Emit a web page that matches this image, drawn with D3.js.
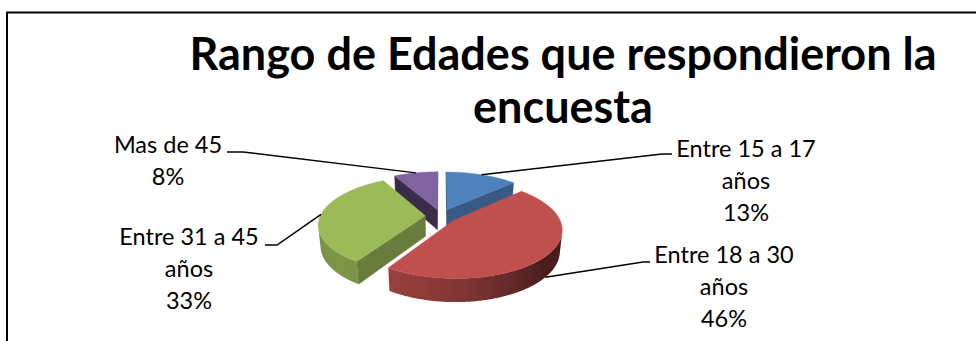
<!DOCTYPE html>
<html><head><meta charset="utf-8">
<script src="https://cdn.jsdelivr.net/npm/d3@7"></script>
<style>body{margin:0;background:#fff} svg{display:block}</style>
</head><body>
<svg id="c" width="976" height="341"></svg>
<script>
// ---- data ----
const titleLines = ["Rango de Edades que respondieron la", "encuesta"];
const categories = ["Entre 15 a 17 años", "Entre 18 a 30 años", "Entre 31 a 45 años", "Mas de 45"];
const values = [13, 46, 33, 8];
const colors = ["#4f81bd", "#c0504d", "#9bbb59", "#8064a2"];

// ---- layout / style ----
const W = 976, H = 341;
const cx = 441, cy = 216;           // screen position of pie centre
const D = 5.18, phi = 26.1 * Math.PI / 180, F = 105 * D; // camera
const depth = 0.22, explode = 0.15;  // pie thickness & explosion (unit radius)
const labelFont = "Lato, 'Open Sans', sans-serif";
const labelSize = 23.5, lineGap = 32;
const labelLayout = [
  {x: 746, y: 157, elbow: [662, 154], end: [672, 154]},
  {x: 724, y: 263, elbow: [643, 262], end: [650, 262]},
  {x: 189, y: 245, elbow: [277, 245], end: [265, 245]},
  {x: 168, y: 153, elbow: [243, 152], end: [227, 152]}
];

const svg = d3.select("#c");
const defs = svg.append("defs");
svg.append("rect").attr("x", 0).attr("y", 0).attr("width", W).attr("height", H).attr("fill", "#fff");
svg.append("rect").attr("x", 7).attr("y", 12.5).attr("width", W + 10).attr("height", H + 10)
  .attr("fill", "none").attr("stroke", "#000").attr("stroke-width", 2);

// title
const tg = svg.append("text").attr("text-anchor", "middle")
  .attr("font-family", labelFont).attr("font-weight", 700).attr("font-size", 45).attr("fill", "#000");
titleLines.forEach((t, i) => tg.append("tspan").attr("x", 563).attr("y", 70 + i * 53).text(t));

// ---- 3D pie ----
const sinP = Math.sin(phi), cosP = Math.cos(phi);
function proj(X, Y, Z) {
  const up = Y * cosP - Z * sinP, tw = Y * sinP + Z * cosP, s = F / (D - tw);
  return [cx + X * s, cy - up * s];
}
const cam = [0, D * sinP, D * cosP];
const color = d3.scaleOrdinal().domain(categories).range(colors);
const arcs = d3.pie().sort(null).value(d => d)(values);
const line = d3.line();

function shade(c, f) {
  const r = d3.rgb(c);
  return d3.rgb(r.r * f, r.g * f, r.b * f).toString();
}
function visible(n, p) {
  return n[0] * (cam[0] - p[0]) + n[1] * (cam[1] - p[1]) + n[2] * (cam[2] - p[2]) > 0;
}

const slices = arcs.map((a, i) => {
  const am = (a.startAngle + a.endAngle) / 2;
  return {i, a0: a.startAngle, a1: a.endAngle, am,
    ox: explode * Math.sin(am), oz: -explode * Math.cos(am), cat: categories[i], value: a.value};
});
const rim = (s, t, Y) => [s.ox + Math.sin(t), Y, s.oz - Math.cos(t)];
const P = p => proj(p[0], p[1], p[2]);

const pieG = svg.append("g");
slices.slice().sort((a, b) => a.oz - b.oz).forEach(s => {
  const g = pieG.append("g");
  const base = color(s.cat);
  const apexT = [s.ox, 0, s.oz], apexB = [s.ox, -depth, s.oz];
  // cut faces
  const faces = [
    {t: s.a0, n: [-Math.cos(s.a0), 0, -Math.sin(s.a0)]},
    {t: s.a1, n: [Math.cos(s.a1), 0, Math.sin(s.a1)]}
  ];
  faces.forEach(f => {
    if (!visible(f.n, apexT)) return;
    const dot = f.n[0] * 0.5 + f.n[2] * 0.86;
    const fc = shade(base, 0.45 + 0.25 * Math.max(0, dot));
    const pts = [apexT, rim(s, f.t, 0), rim(s, f.t, -depth), apexB].map(P);
    g.append("path").attr("d", line(pts) + "Z").attr("fill", fc).attr("stroke", fc).attr("stroke-width", 0.5);
  });
  // outer side: one path over the visible range, shaded with a gradient
  const n = Math.max(2, Math.ceil((s.a1 - s.a0) / (Math.PI / 360)));
  const ts = d3.range(n + 1).map(k => s.a0 + (s.a1 - s.a0) * k / n);
  const vis = ts.filter(t => visible([Math.sin(t), 0, -Math.cos(t)], rim(s, t, 0)));
  if (vis.length > 1) {
    const topPts = vis.map(t => P(rim(s, t, 0)));
    const botPts = vis.map(t => P(rim(s, t, -depth))).reverse();
    const xs = topPts.map(p => p[0]);
    const x0 = d3.min(xs), x1 = d3.max(xs);
    const gid = "side" + s.i;
    const grad = defs.append("linearGradient").attr("id", gid).attr("gradientUnits", "userSpaceOnUse")
      .attr("x1", x0).attr("y1", 0).attr("x2", x1).attr("y2", 0);
    const stops = vis.map((t, k) => ({off: (xs[k] - x0) / (x1 - x0 || 1),
      c: shade(base, 0.38 + 0.42 * Math.max(0, Math.cos(t - 225 * Math.PI / 180)))}))
      .sort((a, b) => a.off - b.off);
    stops.forEach(st => grad.append("stop").attr("offset", st.off).attr("stop-color", st.c));
    g.append("path").attr("d", line(topPts.concat(botPts)) + "Z")
      .attr("fill", `url(#${gid})`);
  }
  // top face
  const top = [apexT].concat(ts.map(t => rim(s, t, 0)));
  g.append("path").attr("d", line(top.map(P)) + "Z").attr("fill", base).attr("stroke", base).attr("stroke-width", 0.5);
});

// ---- labels & leader lines ----
const total = d3.sum(values);
slices.forEach(s => {
  const L = labelLayout[s.i];
  const front = -Math.cos(s.am) > 0.1;
  const anchor = P(rim(s, s.am, front ? -depth : 0));
  svg.append("path").attr("d", line([anchor, L.elbow, L.end]))
    .attr("fill", "none").attr("stroke", "#000").attr("stroke-width", 1.5);
  const name = s.cat;
  const idx = name.indexOf(" años");
  const lines = idx >= 0 ? [name.slice(0, idx), name.slice(idx + 1)] : [name];
  lines.push(Math.round(s.value / total * 100) + "%");
  const t = svg.append("text").attr("text-anchor", "middle").attr("font-family", labelFont)
    .attr("font-size", labelSize).attr("fill", "#000");
  lines.forEach((ln, j) => t.append("tspan").attr("x", L.x).attr("y", L.y + j * lineGap).text(ln));
});
</script>
</body></html>
